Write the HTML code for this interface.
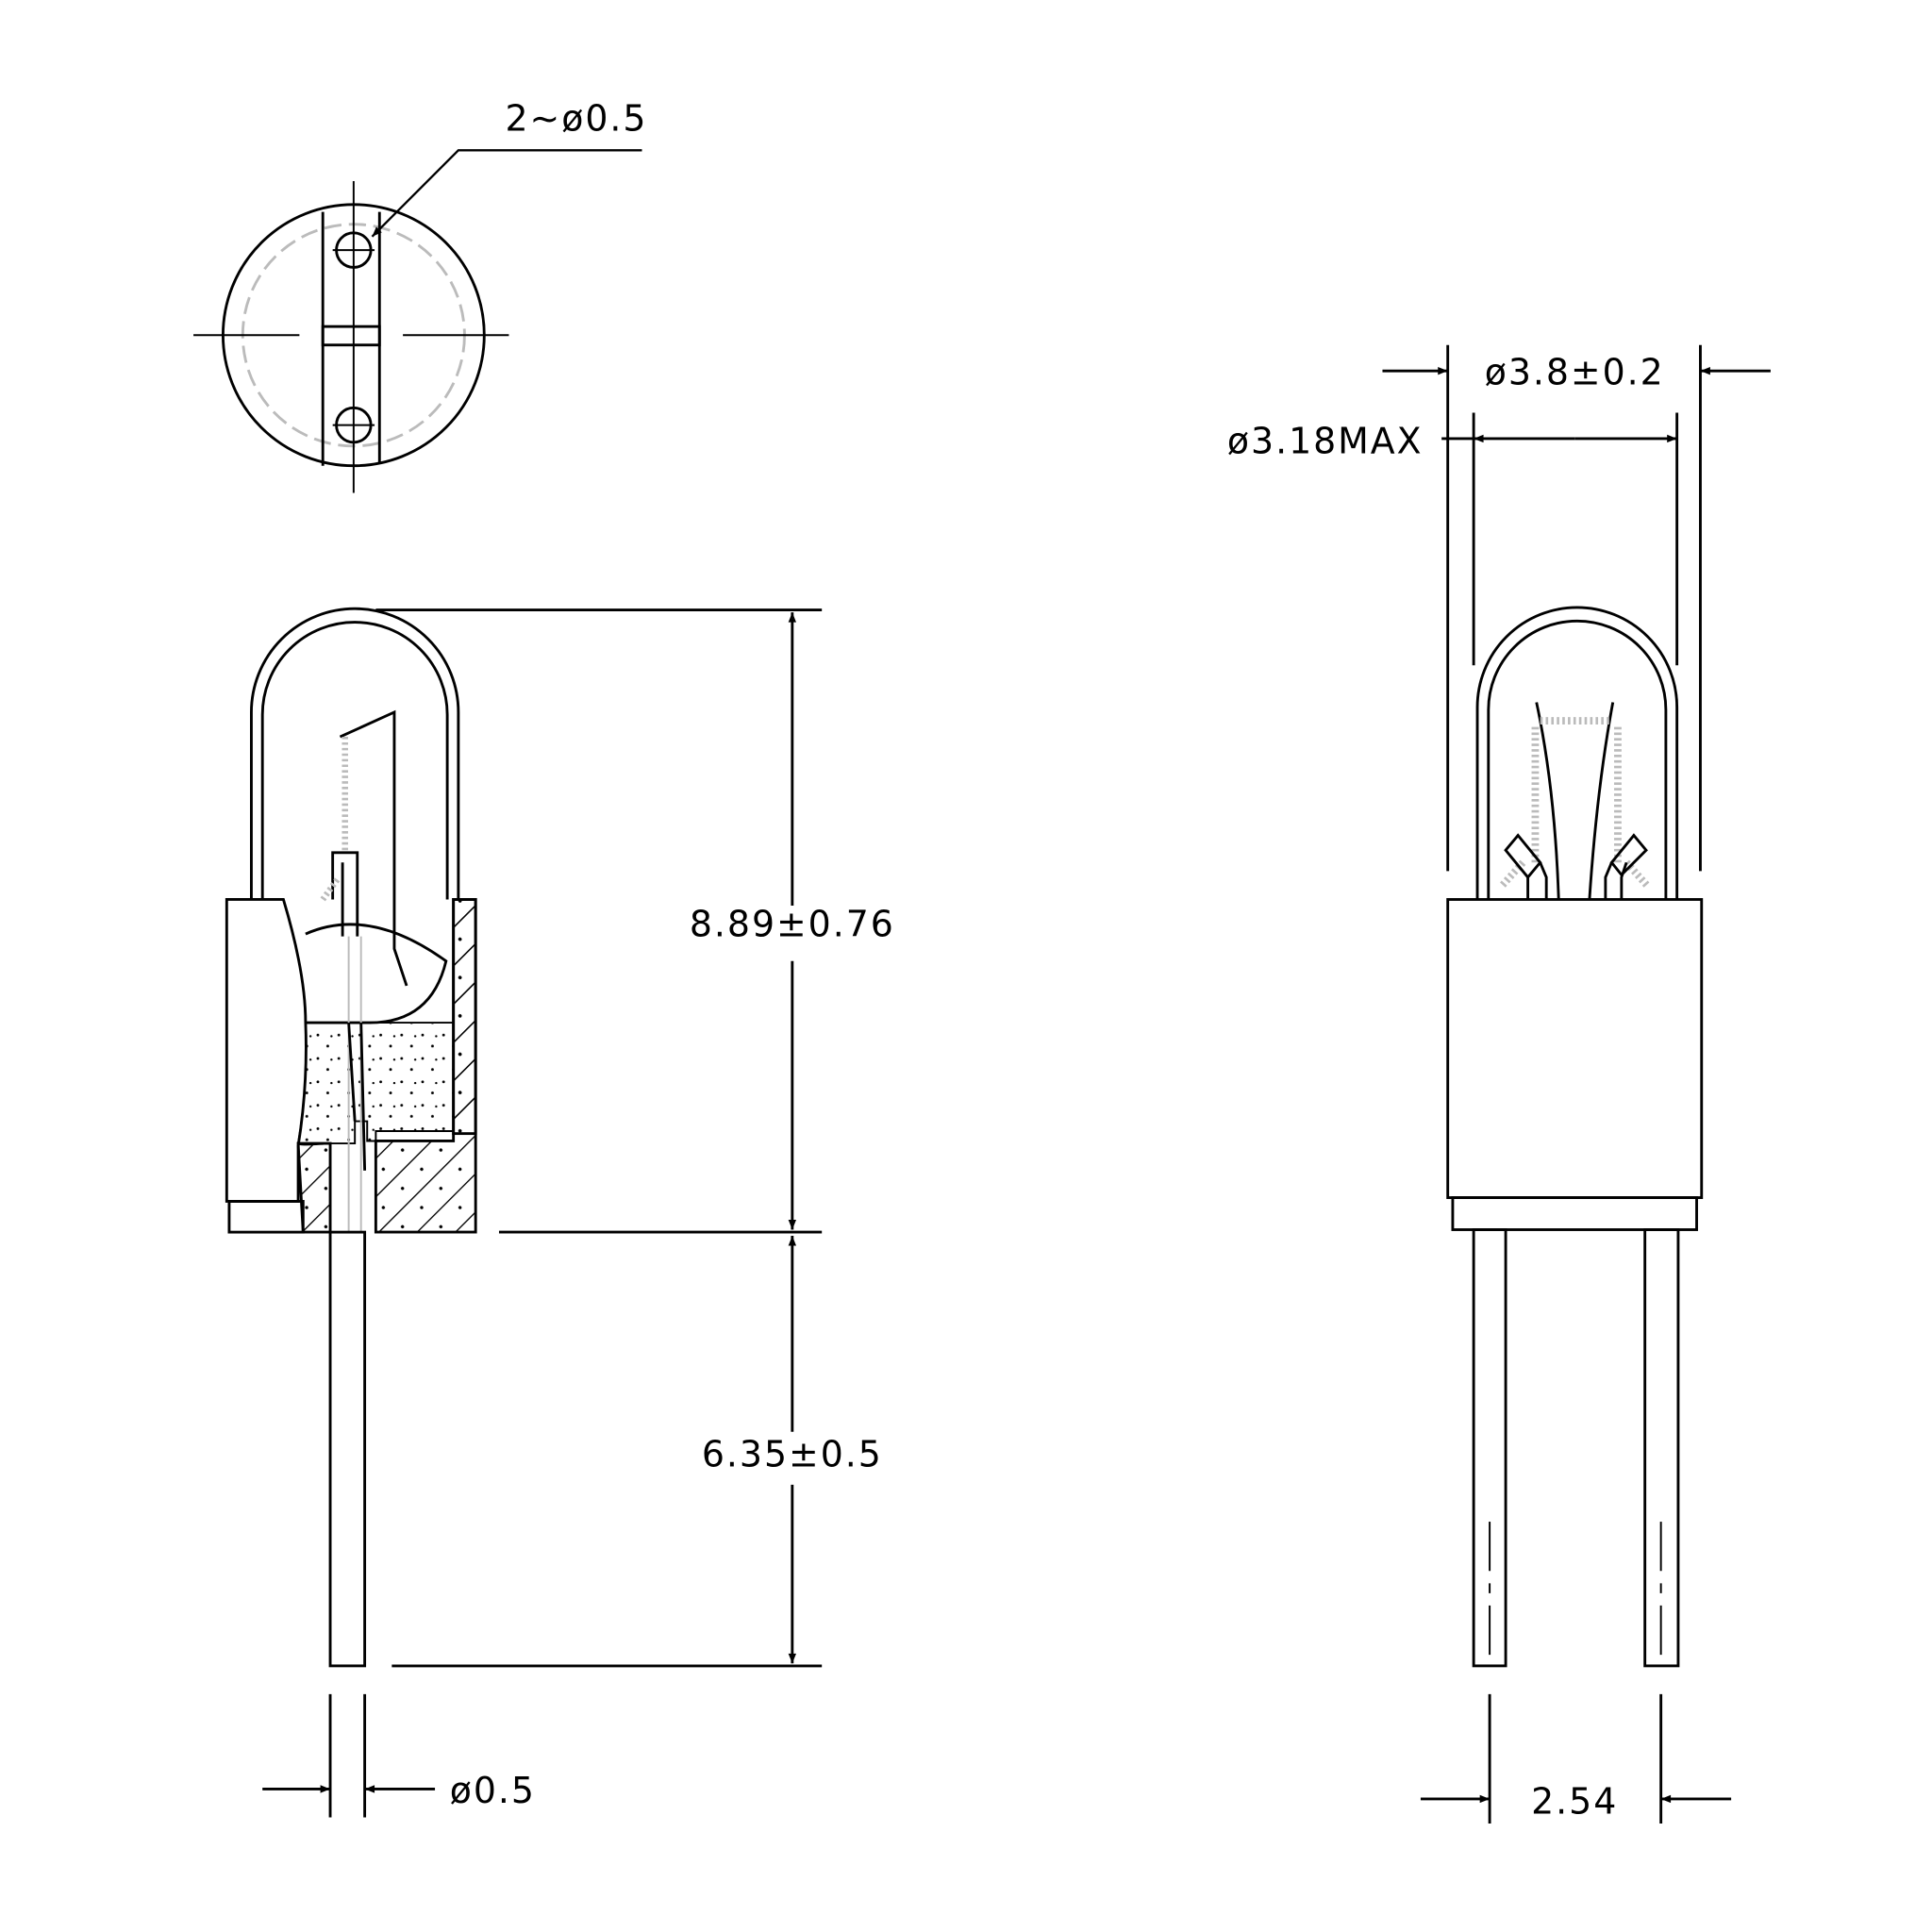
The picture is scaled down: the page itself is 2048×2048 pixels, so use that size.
<!DOCTYPE html>
<html><head><style>html,body{margin:0;padding:0;background:#fff}svg{display:block}</style></head><body>
<svg width="2048" height="2048" viewBox="0 0 1568 1568" xmlns="http://www.w3.org/2000/svg" font-family="DejaVu Sans, Liberation Sans, sans-serif">
<defs>
<pattern id="hat" width="22" height="22" patternUnits="userSpaceOnUse" patternTransform="rotate(-45)">
<line x1="0" y1="0" x2="22" y2="0" stroke="#000" stroke-width="2"/>
<circle cx="11" cy="11" r="1.3" fill="#000"/>
</pattern>
<pattern id="dot" width="17" height="19" patternUnits="userSpaceOnUse">
<circle cx="3" cy="4" r="1.1" fill="#000"/><circle cx="11" cy="13" r="1.1" fill="#000"/><circle cx="14" cy="5" r="0.9" fill="#000"/>
</pattern>
<marker id="ar" viewBox="0 0 10 10" refX="10" refY="5" markerWidth="14" markerHeight="8" markerUnits="userSpaceOnUse" orient="auto"><path d="M0,1L10,5L0,9z" fill="#000"/></marker>
</defs>
<g fill="none" stroke="#000" stroke-width="2.2">
<!-- top view -->
<circle cx="287" cy="272" r="106"/>
<circle cx="287" cy="272" r="90" stroke="#bbb" stroke-dasharray="14 6"/>
<line x1="262" y1="172" x2="262" y2="378"/><line x1="308" y1="172" x2="308" y2="376"/>
<rect x="262" y="265" width="46" height="15"/>
<circle cx="287" cy="203" r="14"/><circle cx="287" cy="345" r="14"/>
<line x1="157" y1="272" x2="243" y2="272" stroke-width="1.5"/><line x1="327" y1="272" x2="413" y2="272" stroke-width="1.5"/>
<line x1="287" y1="147" x2="287" y2="400" stroke-width="1.5"/>
<line x1="270" y1="203" x2="304" y2="203" stroke-width="1.5"/><line x1="270" y1="345" x2="304" y2="345" stroke-width="1.5"/>
<polyline points="521,122 372,122 302,192" marker-end="url(#ar)" stroke-width="1.8"/>

<!-- left side view bulb -->
<path d="M204,730 V578 A84,84 0 0 1 372,578 V730"/>
<path d="M213,730 V580 A75,75 0 0 1 363,580 V730"/>
<path d="M276,598 L320,578 V770 L330,800" />
<path d="M270,730 V692 H290 V760"/>
<path d="M278,760 V700"/>
<path d="M280,598 V690" stroke="#bbb" stroke-width="5" stroke-dasharray="2 2.5"/>
<path d="M262,730 L275,712" stroke="#bbb" stroke-width="5" stroke-dasharray="2 2.5"/>
<!-- base -->
<path d="M184,730 H230 Q248,790 248,830 Q250,880 242,930 V975 H184 Z"/>
<rect x="186" y="975" width="60" height="25"/>
<path d="M368,730 H386 V1000 H305 V926 H368 Z" fill="url(#hat)"/>
<rect x="368" y="730" width="18" height="190" fill="url(#hat)"/>
<path d="M242,928 H268 V1000 H246 Z" fill="url(#hat)"/>
<path d="M248,830 H368 V918 H305 V926 H298 V910 H288 V928 H268 Q242,930 242,928 Q250,880 248,830 Z" fill="url(#dot)" stroke-width="1.5"/>
<path d="M248,758 Q300,735 362,780 Q350,830 300,830 H248" />
<path d="M283,760 V1000 M293,760 V1000" stroke="#bbb" stroke-width="1.5"/>
<path d="M283,830 L288,910 M293,830 L296,950" />
<!-- lead -->
<rect x="268" y="1000" width="28" height="352" fill="#fff"/>

<!-- dims left -->
<line x1="305" y1="495" x2="667" y2="495"/><line x1="405" y1="1000" x2="667" y2="1000"/><line x1="318" y1="1352" x2="667" y2="1352"/>
<line x1="643" y1="735" x2="643" y2="497" marker-end="url(#ar)"/><line x1="643" y1="780" x2="643" y2="998" marker-end="url(#ar)"/>
<line x1="643" y1="1162" x2="643" y2="1003" marker-end="url(#ar)"/><line x1="643" y1="1205" x2="643" y2="1350" marker-end="url(#ar)"/>
<line x1="268" y1="1375" x2="268" y2="1475"/><line x1="296" y1="1375" x2="296" y2="1475"/>
<line x1="213" y1="1452" x2="268" y2="1452" marker-end="url(#ar)"/><line x1="353" y1="1452" x2="296" y2="1452" marker-end="url(#ar)"/>

<!-- right view -->
<path d="M1199,730 V574 A81,81 0 0 1 1361,574 V730"/>
<path d="M1208,730 V576 A72,72 0 0 1 1352,576 V730"/>
<line x1="1175" y1="280" x2="1175" y2="707"/><line x1="1380" y1="280" x2="1380" y2="707"/>
<line x1="1196" y1="335" x2="1196" y2="540"/><line x1="1361" y1="335" x2="1361" y2="540"/>
<line x1="1122" y1="301" x2="1175" y2="301" marker-end="url(#ar)"/><line x1="1437" y1="301" x2="1380" y2="301" marker-end="url(#ar)"/>
<line x1="1170" y1="356" x2="1196" y2="356"/>
<line x1="1278" y1="356" x2="1196" y2="356" marker-end="url(#ar)"/><line x1="1278" y1="356" x2="1361" y2="356" marker-end="url(#ar)"/>
<path d="M1247,570 Q1262,640 1265,730 M1309,570 Q1296,640 1290,730" />
<path d="M1250,585 H1307 M1246,590 V700 M1313,590 V700 M1236,700 L1218,720 M1320,700 L1338,720" stroke="#bbb" stroke-width="6" stroke-dasharray="2 2.5"/>
<path d="M1222,690 L1232,678 L1250,700 L1240,712 Z M1316,710 L1308,700 L1326,678 L1336,690 Z"/>
<path d="M1240,712 V730 M1250,700 L1255,712 V730 M1308,700 L1303,712 V730 M1320,700 L1316,712 V730"/>
<rect x="1175" y="730" width="206" height="242"/>
<rect x="1179" y="972" width="198" height="26"/>
<rect x="1196" y="998" width="26" height="354"/><rect x="1335" y="998" width="27" height="354"/>
<line x1="1209" y1="1235" x2="1209" y2="1350" stroke-dasharray="40 10 8 10" stroke-width="1.5"/>
<line x1="1348" y1="1235" x2="1348" y2="1350" stroke-dasharray="40 10 8 10" stroke-width="1.5"/>
<line x1="1209" y1="1375" x2="1209" y2="1480"/><line x1="1348" y1="1375" x2="1348" y2="1480"/>
<line x1="1153" y1="1460" x2="1209" y2="1460" marker-end="url(#ar)"/><line x1="1405" y1="1460" x2="1348" y2="1460" marker-end="url(#ar)"/>
</g>
<g font-size="29" fill="#000" letter-spacing="1.5">
<text x="410" y="106">2~ø0.5</text>
<text x="643" y="760" text-anchor="middle" style="paint-order:stroke" stroke="#fff" stroke-width="8">8.89±0.76</text>
<text x="643" y="1190" text-anchor="middle" style="paint-order:stroke" stroke="#fff" stroke-width="8">6.35±0.5</text>
<text x="365" y="1463">ø0.5</text>
<text x="1278" y="312" text-anchor="middle">ø3.8±0.2</text>
<text x="1155" y="368" text-anchor="end">ø3.18MAX</text>
<text x="1278" y="1472" text-anchor="middle">2.54</text>
</g>
</svg>
</body></html>
